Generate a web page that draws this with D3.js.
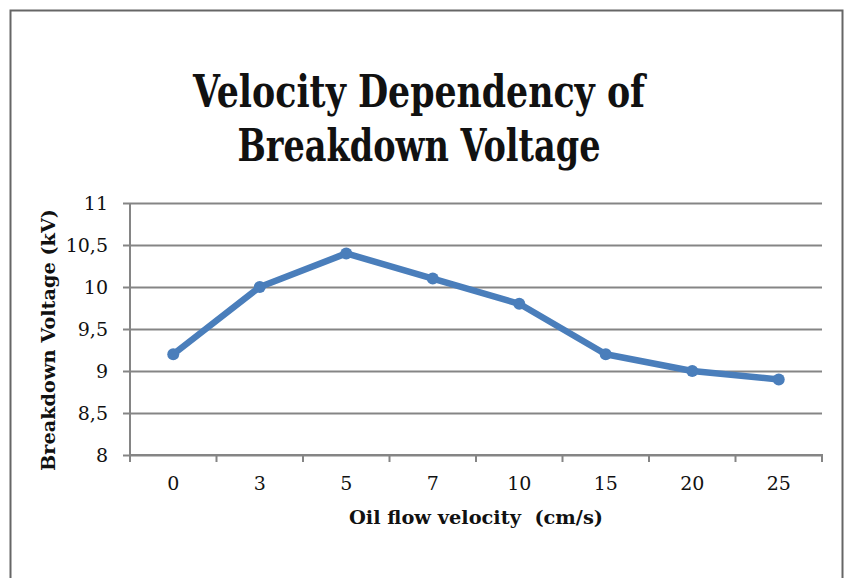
<!doctype html>
<html lang="en">
<head>
<meta charset="utf-8">
<title>Velocity Dependency of Breakdown Voltage</title>
<style>
html, body {
	margin: 0;
	padding: 0;
	background: #fff;
	overflow: hidden;
}
svg text {
	font-family: 'DejaVu Serif', serif;
	fill: #111;
}
.bold { font-weight: bold; }
</style>
</head>
<body>
<div id="chart"></div>
<script src="https://cdnjs.cloudflare.com/ajax/libs/d3/7.8.5/d3.min.js"></script>
<script>
var velocities = ['0', '3', '5', '7', '10', '15', '20', '25'];
var voltages = [9.2, 10.0, 10.4, 10.1, 9.8, 9.2, 9.0, 8.9];
var yTicks = [8, 8.5, 9, 9.5, 10, 10.5, 11];
var titleLines = ['Velocity Dependency of', 'Breakdown Voltage'];

var W = 847, H = 578;
var plot = { left: 130, right: 822, top: 203, bottom: 455 };
var GRID = '#858585';
var BLUE = '#4a7ebb';

var svg = d3.select('#chart').append('svg')
	.attr('width', W)
	.attr('height', H);

// outer frame, bottom edge is cut off in the picture
svg.append('rect')
	.attr('x', 10.5).attr('y', 10.5)
	.attr('width', 832).attr('height', 600)
	.attr('fill', 'none')
	.attr('stroke', '#666')
	.attr('stroke-width', 2);

var x = d3.scaleBand().domain(velocities).range([plot.left, plot.right]);
var y = d3.scaleLinear().domain([8, 11]).range([plot.bottom, plot.top]);

// horizontal grid + left ticks
var yAxis = d3.axisLeft(y)
	.tickValues(yTicks)
	.tickSize(-(plot.right - plot.left))
	.tickFormat(function (d) { return String(d).replace('.', ','); });

var gy = svg.append('g')
	.attr('transform', 'translate(' + plot.left + ',0)')
	.call(yAxis);
gy.select('.domain').remove();
gy.selectAll('.tick line')
	.attr('x1', -7)
	.attr('stroke', GRID)
	.attr('stroke-width', 2);
gy.selectAll('.tick text')
	.attr('x', -22)
	.attr('dy', '0.36em')
	.style('font-size', '19px')
	.style('font-family', "'DejaVu Serif', serif")
	.attr('fill', '#1a1a1a');

// y axis line
svg.append('line')
	.attr('x1', plot.left).attr('x2', plot.left)
	.attr('y1', plot.top).attr('y2', plot.bottom + 1)
	.attr('stroke', GRID).attr('stroke-width', 2);

// x axis: ticks sit between categories
var gx = svg.append('g')
	.attr('transform', 'translate(0,' + plot.bottom + ')');
gx.append('line')
	.attr('x1', plot.left - 1).attr('x2', plot.right + 1)
	.attr('stroke', GRID).attr('stroke-width', 2);
var bounds = velocities.map(function (d) { return x(d); }).concat([plot.right]);
gx.selectAll('.xt').data(bounds).enter()
	.append('line')
	.attr('class', 'xt')
	.attr('x1', function (d) { return d; })
	.attr('x2', function (d) { return d; })
	.attr('y1', 0).attr('y2', 7)
	.attr('stroke', GRID).attr('stroke-width', 2);
gx.selectAll('.xl').data(velocities).enter()
	.append('text')
	.attr('class', 'xl')
	.attr('x', function (d) { return x(d) + x.bandwidth() / 2; })
	.attr('y', 35)
	.attr('text-anchor', 'middle')
	.style('font-size', '19px')
	.attr('fill', '#1a1a1a')
	.text(function (d) { return d; });

// series
var pts = velocities.map(function (d, i) {
	return [x(d) + x.bandwidth() / 2, y(voltages[i])];
});
svg.append('path')
	.attr('d', d3.line()(pts))
	.attr('fill', 'none')
	.attr('stroke', BLUE)
	.attr('stroke-width', 6.5)
	.attr('stroke-linejoin', 'round');
svg.selectAll('.dot').data(pts).enter()
	.append('circle')
	.attr('class', 'dot')
	.attr('cx', function (d) { return d[0]; })
	.attr('cy', function (d) { return d[1]; })
	.attr('r', 6)
	.attr('fill', BLUE);

// titles
svg.selectAll('.title').data(titleLines).enter()
	.append('text')
	.attr('class', 'title bold')
	.attr('x', 419)
	.attr('y', function (d, i) { return 107 + i * 54; })
	.attr('text-anchor', 'middle')
	.attr('textLength', function (d, i) { return i === 0 ? 452 : 363; })
	.attr('lengthAdjust', 'spacingAndGlyphs')
	.style('font-size', '45px')
	.text(function (d) { return d; });

svg.append('text')
	.attr('class', 'bold')
	.attr('x', 476)
	.attr('y', 524)
	.attr('text-anchor', 'middle')
	.attr('textLength', 254)
	.attr('lengthAdjust', 'spacingAndGlyphs')
	.style('font-size', '19px')
	.style('white-space', 'pre')
	.text('Oil flow velocity  (cm/s)');

svg.append('text')
	.attr('class', 'bold')
	.attr('transform', 'translate(55,340) rotate(-90)')
	.attr('text-anchor', 'middle')
	.attr('textLength', 262)
	.attr('lengthAdjust', 'spacingAndGlyphs')
	.style('font-size', '19px')
	.text('Breakdown Voltage (kV)');
</script>
</body>
</html>
